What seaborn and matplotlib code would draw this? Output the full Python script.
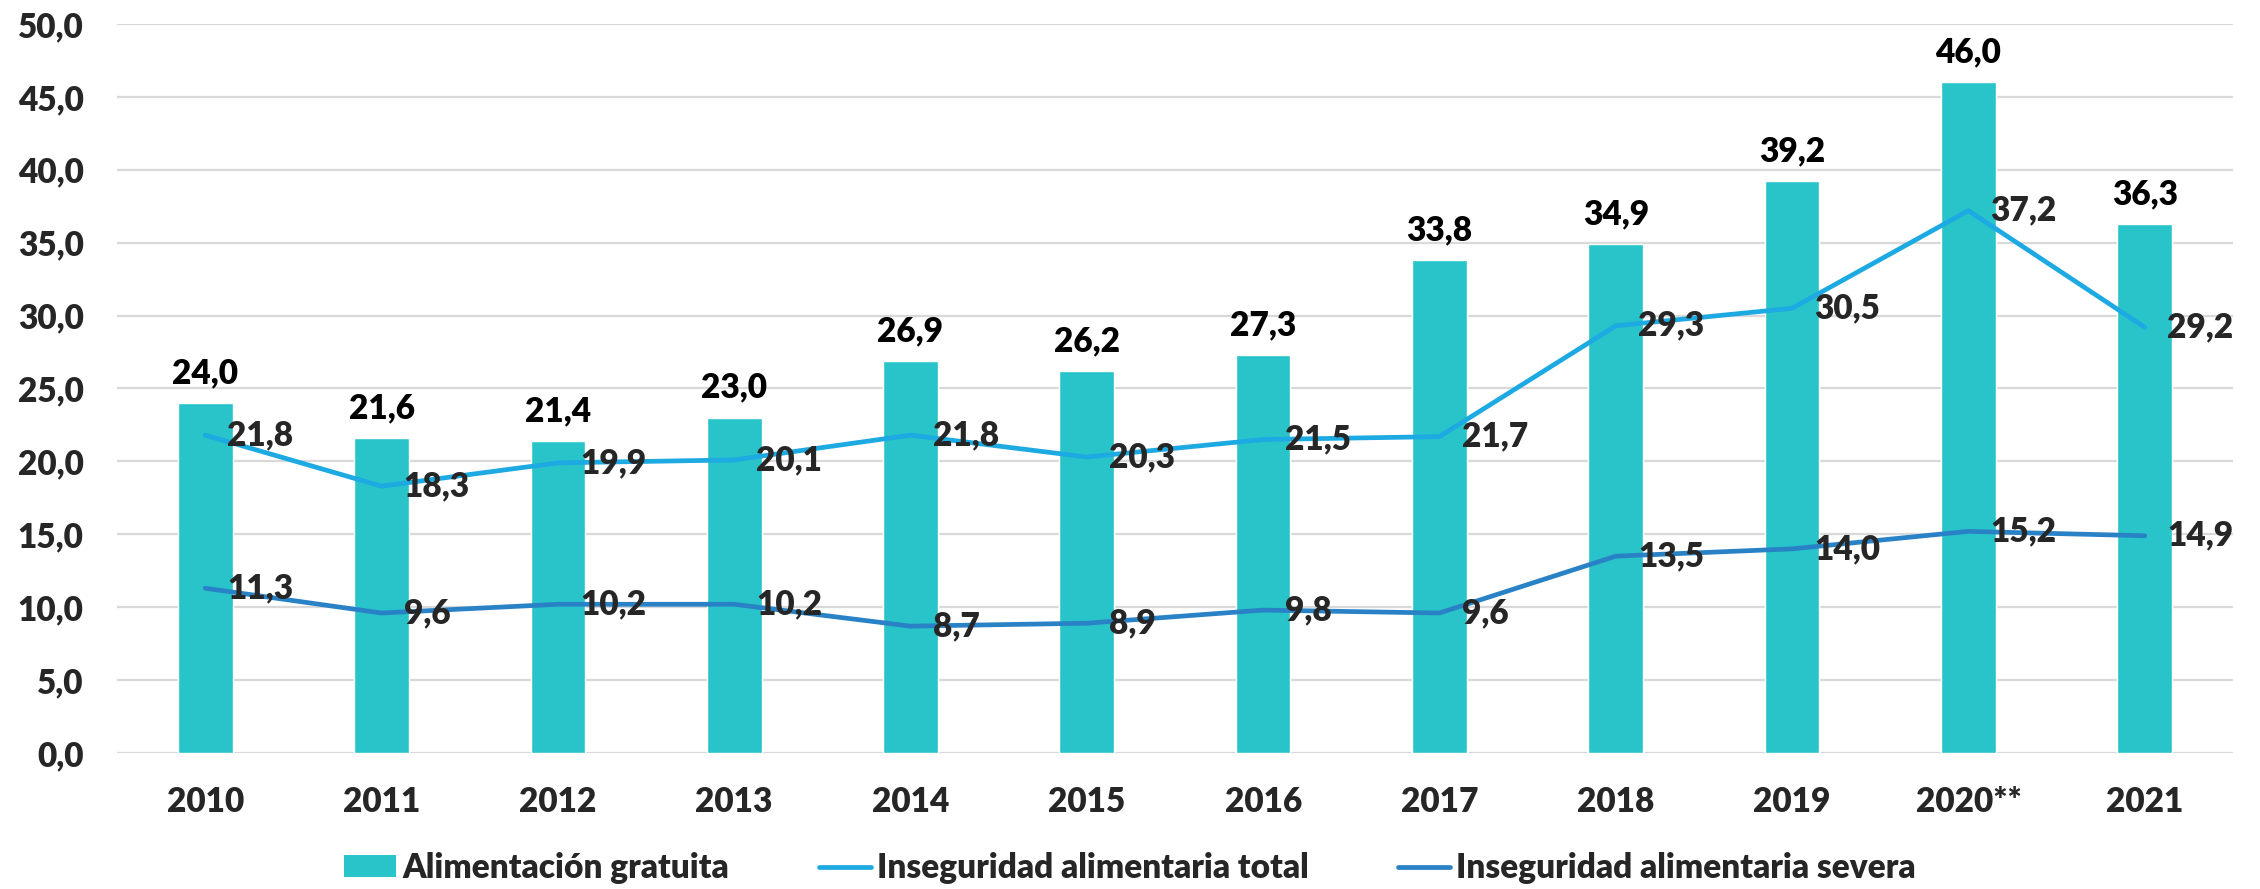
import numpy as np
import matplotlib
matplotlib.use('Agg')
import matplotlib.pyplot as plt
import seaborn as sns
import pandas as pd
from matplotlib.patches import Patch
from matplotlib.lines import Line2D

#DATA
years = ['2010', '2011', '2012', '2013', '2014', '2015', '2016', '2017', '2018', '2019', '2020**', '2021']
alimentacion = [24.0, 21.6, 21.4, 23.0, 26.9, 26.2, 27.3, 33.8, 34.9, 39.2, 46.0, 36.3]
inseg_total = [21.8, 18.3, 19.9, 20.1, 21.8, 20.3, 21.5, 21.7, 29.3, 30.5, 37.2, 29.2]
inseg_severa = [11.3, 9.6, 10.2, 10.2, 8.7, 8.9, 9.8, 9.6, 13.5, 14.0, 15.2, 14.9]

labels = ['Alimentación gratuita', 'Inseguridad alimentaria total', 'Inseguridad alimentaria severa']
c_bar = '#28C4CA'
c_total = '#1DA9E1'
c_severa = '#2A82C6'

#SETUP
sns.set_style('white')
plt.rcParams['font.family'] = ['Lato', 'DejaVu Sans']
W = 'heavy'
fs = 24

df = pd.DataFrame({'year': years, 'bars': alimentacion, 'total': inseg_total, 'severa': inseg_severa})

fig = plt.figure(figsize=(22.6, 8.89), dpi=100)
ax = fig.add_axes([0.0518, 0.153, 0.9362, 0.820])

#Bars
sns.barplot(data=df, x='year', y='bars', color=c_bar, width=0.31, saturation=1, ax=ax, zorder=2)

#Lines on the same category positions
pos = np.arange(len(years))
sns.lineplot(x=pos, y=df['total'], color=c_total, linewidth=3.4, ax=ax, zorder=3)
sns.lineplot(x=pos, y=df['severa'], color=c_severa, linewidth=3.4, ax=ax, zorder=3)

fmt = lambda v: f'{v:.1f}'.replace('.', ',')

#Bar labels
ax.bar_label(ax.containers[0], labels=[fmt(v) for v in alimentacion], padding=10,
             fontsize=fs, fontweight=W, color='black')

#Line labels (right of point)
for i in range(len(years)):
    ax.annotate(fmt(inseg_total[i]), (i, inseg_total[i]), xytext=(16, 0), textcoords='offset points',
                ha='left', va='center', fontsize=fs, fontweight=W, zorder=5)
    ax.annotate(fmt(inseg_severa[i]), (i, inseg_severa[i]), xytext=(16, 0), textcoords='offset points',
                ha='left', va='center', fontsize=fs, fontweight=W, zorder=5)

#Axes style
ax.set_xlim(-0.5, len(years) - 0.5)
ax.set_ylim(0, 50)
ax.set_yticks(np.arange(0, 51, 5))
ax.set_yticklabels([fmt(v) for v in np.arange(0, 51, 5)])
ax.yaxis.grid(True, color='#D9D9D9', linewidth=1.6, zorder=0)
ax.set_axisbelow(True)
for s in ax.spines.values():
    s.set_visible(False)
ax.tick_params(axis='y', length=0, pad=24, labelsize=fs)
ax.tick_params(axis='x', length=0, pad=24, labelsize=fs)
for t in ax.get_xticklabels() + ax.get_yticklabels():
    t.set_fontweight(W)
ax.set_xlabel('')
ax.set_ylabel('')

#Legend
handles = [Patch(facecolor=c_bar, edgecolor='none'),
           Line2D([0], [0], color=c_total, linewidth=3.4),
           Line2D([0], [0], color=c_severa, linewidth=3.4)]
fig.legend(handles, labels, loc='lower center', bbox_to_anchor=(0.5, -0.028), ncol=3, frameon=False,
           prop={'size': fs, 'weight': W}, handlelength=1.55, handletextpad=0.18, columnspacing=2.7,
           handleheight=0.63)

plt.savefig('out.png', dpi=100)
